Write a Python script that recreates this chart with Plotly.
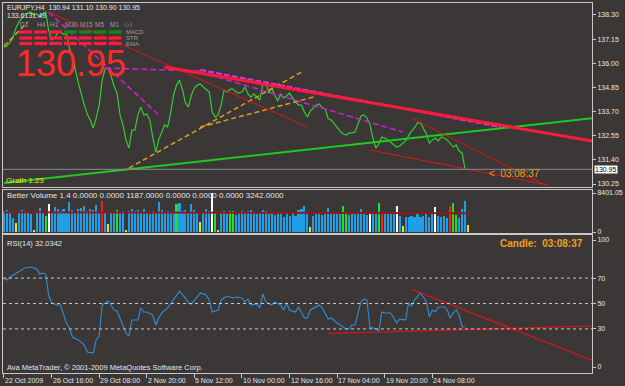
import plotly.graph_objects as go

# ---------------- data ----------------
bars = list(range(156))
close = [136.77, 136.82, 137.01, 137.20, 137.68, 137.96, 138.15, 138.30, 138.39, 138.44,
         138.30, 138.35, 138.20, 138.35, 138.44, 137.58, 137.11, 137.20, 137.44, 137.49,
         137.39, 137.39, 136.73, 136.25, 135.68, 135.06, 134.49, 134.01, 133.58, 133.30,
         132.92, 133.39, 134.01, 135.20, 135.73, 135.77, 135.39, 134.92, 134.58, 133.54,
         133.06, 132.35, 131.96, 132.82, 132.82, 133.54, 133.92, 133.54, 133.58, 133.30,
         132.49, 131.77, 132.35, 132.68, 133.06, 132.96, 133.63, 134.49, 134.96, 135.20,
         134.73, 134.11, 133.92, 134.49, 134.82, 134.96, 135.01, 134.87, 134.73, 134.63,
         133.68, 133.44, 133.54, 134.01, 134.73, 134.63, 134.77, 134.77, 134.63, 134.58,
         134.63, 134.87, 134.54, 134.39, 134.54, 134.39, 134.25, 135.01, 135.11, 134.58,
         134.82, 134.49, 134.20, 134.54, 134.35, 134.44, 134.58, 134.35, 134.15, 134.01,
         134.01, 133.68, 133.44, 133.73, 133.87, 134.01, 134.06, 133.87, 133.82, 133.35,
         133.30, 133.11, 132.96, 132.77, 132.63, 132.58, 132.68, 132.68, 132.73, 133.11,
         133.49, 133.54, 133.39, 133.11, 132.44, 131.96, 132.16, 132.49, 132.44, 132.35,
         132.25, 132.11, 132.01, 132.06, 132.16, 132.30, 132.54, 132.77, 132.92, 133.16,
         133.16, 132.87, 132.63, 132.20, 132.35, 132.44, 132.30, 132.49, 132.44, 132.35,
         132.20, 132.01, 132.11, 131.82, 131.73, 130.95]

rsi_bar = [0, 1, 2, 5, 7, 9, 11, 12, 13, 14, 15, 16, 18, 19, 20, 21, 22, 23, 25, 27, 28, 30,
           31, 32, 33, 35, 36, 37, 38, 40, 41, 42, 43, 45, 46, 47, 48, 50, 51, 52, 53, 55,
           57, 59, 61, 62, 63, 65, 66, 68, 69, 70, 72, 73, 75, 77, 78, 80, 81, 82, 83, 85,
           86, 87, 88, 90, 91, 93, 94, 95, 96, 98, 99, 101, 102, 103, 105, 106, 107, 109,
           110, 112, 115, 116, 117, 118, 120, 121, 122, 123, 125, 126, 127, 128, 130, 132,
           133, 135, 136, 137, 138, 140, 141, 142, 143, 144, 145, 146, 148, 149, 150, 151,
           152, 153, 154, 155]
rsi_val = [70.1, 68.5, 70.9, 74.8, 78.0, 78.7, 77.2, 73.2, 74.0, 73.2, 56.7, 50.4, 48.8, 48.8,
           42.5, 34.6, 30.7, 23.6, 21.3, 17.3, 11.8, 11.0, 21.3, 24.4, 48.8, 52.0, 48.8, 44.9,
           44.1, 31.5, 26.8, 24.4, 37.0, 37.0, 46.5, 43.3, 43.3, 40.9, 33.1, 38.6, 42.5, 46.5,
           52.8, 59.8, 54.3, 50.4, 49.6, 55.9, 58.3, 56.7, 52.8, 43.3, 44.9, 52.8, 55.9, 54.3,
           55.1, 54.3, 51.2, 53.5, 48.8, 49.6, 46.5, 57.5, 51.2, 48.8, 51.2, 48.8, 44.9, 50.4,
           44.9, 43.3, 47.2, 38.6, 38.6, 44.9, 47.2, 48.8, 46.5, 37.8, 38.6, 34.6, 29.9, 29.9,
           33.1, 33.1, 51.2, 53.5, 52.8, 31.5, 29.9, 28.3, 43.3, 42.5, 42.5, 34.6, 37.8, 37.0,
           50.4, 48.0, 52.8, 58.3, 55.1, 51.2, 39.4, 44.9, 43.3, 47.2, 47.2, 44.9, 38.6, 42.5,
           44.9, 40.9, 31.5, 32.03]

vol_bar = list(range(157))
vol_val = [4500, 4700, 4300, 3000, 1900, 4400, 4700, 4600, 4200, 3800,
           500, 4300, 5200, 4000, 3500, 6000, 4400, 5400, 5000, 4600,
           4900, 4400, 6500, 4700, 4400, 4900, 5200, 5600, 4500, 5000,
           4700, 5800, 4300, 6600, 4000, 1800, 4300, 4000, 4800, 4300,
           4600, 500, 4600, 5000, 4500, 4700, 4100, 4900, 4400, 3900,
           4600, 4300, 6500, 4800, 4100, 4600, 4300, 4000, 6100, 6300,
           4500, 4800, 4200, 6100, 4700, 4300, 2200, 4400, 4900, 4500,
           8401, 4300, 500, 4200, 4600, 4000, 4500, 4600, 3700, 4100,
           4500, 4000, 4600, 4700, 4100, 3800, 4300, 4800, 4600, 4200,
           4000, 3600, 4400, 3800, 3300, 4100, 3500, 4200, 3400, 4700,
           5000, 5600, 4200, 1000, 3500, 3900, 4200, 3700, 4100, 5100,
           4000, 3800, 4200, 3900, 5700, 4200, 3600, 4100, 4400, 3900,
           5000, 4200, 3700, 4200, 3900, 4200, 6200, 4200, 4000, 4300,
           4400, 4100, 5600, 3500, 1300, 3300, 3200, 3500, 3300, 3800,
           3200, 3500, 4100, 3300, 3900, 5400, 3500, 3200, 3500, 3100,
           5600, 6200, 3700, 3000, 5000, 6700, 1500]
vol_kind = list("bbbbybbbbb" "ybbbgwbbbb" "bbbbbbbbbb" "bbbrbybbgb"
                "bybbbbbbbb" "bbbbbbbbgb" "bbbbbbybbb" "wgybbbggbb"
                "bbbbbbbbbb" "bbbbbbbbbb" "bbbybbbbbb" "bbbbggbbbb"
                "bbbwbbgrbb" "bbwbybbbbb" "bbbbbwbbbb" "rggbbby")
vol_ma_bar = [0, 40, 80, 120, 156]
vol_ma_val = [4250, 4250, 4200, 4100, 4050]

price_ticks = [138.30, 137.15, 136.00, 134.85, 133.70, 132.55, 131.40, 130.25]
vol_ticks = [8401.05, 0]
vol_tick_text = ["8401.05", "0"]
rsi_ticks = [100, 70, 50, 30, 0]
rsi_levels = [70, 50, 30]
time_ticks = [0, 16, 32, 48, 64, 80, 96, 112, 128, 144]
time_labels = ["22 Oct 2009", "26 Oct 16:00", "29 Oct 08:00", "2 Nov 20:00", "5 Nov 12:00",
               "10 Nov 00:00", "12 Nov 16:00", "17 Nov 04:00", "19 Nov 20:00", "24 Nov 08:00"]

# user-drawn lines: (bar0, value0, bar1, value1, color, width, dash)
main_lines = [
    (0, 130.30, 200, 133.42, "#22c822", 2, "solid"),
    (0, 136.82, 8, 137.96, "#d8a020", 1.5, "5px,3px"),
    (42, 131.01, 100, 135.58, "#d8a020", 1.5, "5px,3px"),
    (66, 132.96, 104, 134.39, "#d8a020", 1.5, "5px,3px"),
    (15, 138.44, 52, 133.53, "#d020d0", 1.5, "6px,3px"),
    (34, 135.77, 66, 135.63, "#d020d0", 1.5, "6px,3px"),
    (66, 135.58, 134, 132.73, "#d020d0", 1.5, "6px,3px"),
    (66, 135.68, 167, 132.96, "#e030e0", 2, "6px,2px"),
    (15, 138.44, 102, 132.97, "#e01414", 1, "solid"),
    (123, 131.87, 183, 130.20, "#e01414", 1, "solid"),
    (137, 133.39, 182, 130.20, "#e01414", 1, "solid"),
    (54, 135.82, 200, 132.24, "#ff1a3a", 3, "solid"),
]
rsi_lines = [
    (137, 61.2, 198, 5.0, "#e01414", 1.2),
    (109, 26.4, 198, 32.3, "#e01414", 1.2),
]

tf_labels = ["D1", "H4", "H1", "M30", "M15", "M5", "M1"]
macd_state = ["r", "r", "r", "g", "g", "g", "g"]
str_state = ["r"] * 7
ema_state = ["r"] * 7

# ---------------- layout helpers ----------------
W, H = 625, 386
L, R, T, B = 2, 29, 3, 13
PW, PH = W - L - R, H - T - B
BG = "#3b3737"
FG = "#e6e6e6"
BORDER = "#c8c8c8"
FONT = "Liberation Sans, Arial, sans-serif"


def fx(px):
    return (px - L) / PW


def fy(py):
    return (H - B - py) / PH


XR = [-1 / 3, 197.667]
COLORS = {"b": "#1e9fe6", "y": "#f0e020", "w": "#ffffff", "r": "#ff1a1a", "g": "#22e022"}

fig = go.Figure()

# price line
fig.add_trace(go.Scatter(x=bars, y=close, mode="lines", line=dict(color="#33cc33", width=1.2),
                         xaxis="x2", yaxis="y2", hoverinfo="skip"))
for (a0, v0, a1, v1, c, w, d) in main_lines:
    fig.add_trace(go.Scatter(x=[a0, a1], y=[v0, v1], mode="lines",
                             line=dict(color=c, width=w, dash=d),
                             xaxis="x2", yaxis="y2", hoverinfo="skip"))

# volume
fig.add_trace(go.Bar(x=vol_bar, y=vol_val, width=0.7,
                     marker=dict(color=[COLORS[k] for k in vol_kind], line=dict(width=0)),
                     xaxis="x3", yaxis="y3", hoverinfo="skip"))
fig.add_trace(go.Scatter(x=vol_ma_bar, y=vol_ma_val, mode="lines",
                         line=dict(color="#8c1c1c", width=2),
                         xaxis="x3", yaxis="y3", hoverinfo="skip"))

# RSI
fig.add_trace(go.Scatter(x=rsi_bar, y=rsi_val, mode="lines", line=dict(color="#2f8fdc", width=1.1),
                         xaxis="x", yaxis="y", hoverinfo="skip"))
for (a0, v0, a1, v1, c, w) in rsi_lines:
    fig.add_trace(go.Scatter(x=[a0, a1], y=[v0, v1], mode="lines", line=dict(color=c, width=w),
                             xaxis="x", yaxis="y", hoverinfo="skip"))

shapes = []
for lv in rsi_levels:
    shapes.append(dict(type="line", xref="x domain", yref="y", x0=0, x1=1, y0=lv, y1=lv,
                       line=dict(color="#c8c8c8", width=1, dash="3px,3px")))
# current price line
shapes.append(dict(type="line", xref="x2 domain", yref="y2", x0=0, x1=1, y0=close[-1], y1=close[-1],
                   line=dict(color="#7d8ea0", width=1)))

# dashboard dashes
state_rows = [macd_state, str_state, ema_state]
row_y = [32, 38, 43.5]
for r, states in enumerate(state_rows):
    for k, s in enumerate(states):
        cx = 25 + 15 * k
        shapes.append(dict(type="rect", xref="paper", yref="paper",
                           x0=fx(cx - 6.5), x1=fx(cx + 6.5), y0=fy(row_y[r] + 1.6), y1=fy(row_y[r] - 1.6),
                           line=dict(width=0),
                           fillcolor="#ff1c3c" if s == "r" else "#138a13"))

ann = []


def text(t, x, y, size=8, color=FG, xa="left", bold=False, **kw):
    ann.append(dict(text=("<b>%s</b>" % t) if bold else t, xref="paper", yref="paper",
                    x=fx(x), y=fy(y), xanchor=xa, yanchor="middle", showarrow=False,
                    font=dict(family=FONT, size=size, color=color), **kw))


text("EURJPY,H4  130.94 131.10 130.90 130.95", 4, 7, size=7)
text("133.6131.49", 4, 16, size=7)
tf_cx = [24, 41, 54, 71, 86, 99, 114]
for lab, cx in zip(tf_labels, tf_cx):
    text(lab, cx, 25, size=6.5, color="#9c9c9c", xa="center")
text("G4", 129, 25, size=6.5, color="#6e6e6e", xa="center")
for lab, yy in zip(["MACD", "STR", "EMA"], row_y):
    text(lab, 124, yy, size=6, color="#9c9c9c")
text("130.95", 71, 64, size=36, color="#ff2a2a", xa="center")
text("Grath 1.23", 3, 180, size=8, color="#e8e820")
text("<  03:08:37", 490, 173, size=10, color="#eea020")
text("Better Volume 1.4 0.0000 0.0000 1187.0000 0.0000 0.0000 0.0000 3242.0000", 4, 195)
text("RSI(14) 32.0342", 4, 243, size=7.5)
text("Candle:  03:08:37", 589, 243, size=10, color="#eea020", xa="right", bold=True)
text("Ava MetaTrader, © 2001-2009 MetaQuotes Software Corp.", 4, 367, size=7.5)
for tv, tl in zip(time_ticks, time_labels):
    ann.append(dict(text=tl, xref="x", yref="paper", x=tv, y=fy(380), xanchor="left",
                    yanchor="middle", showarrow=False, xshift=-1,
                    font=dict(family=FONT, size=7, color=FG)))
# current price label on price scale
ann.append(dict(text="130.95", xref="paper", yref="y2", x=fx(598), y=close[-1], xanchor="left",
                yanchor="middle", showarrow=False, bgcolor="#ffffff", borderpad=0,
                font=dict(family=FONT, size=7, color="#000000")))

axis_common = dict(showline=True, linecolor=BORDER, linewidth=1, mirror=True, showgrid=False,
                   zeroline=False, fixedrange=True)
tickfont = dict(family=FONT, size=7, color=FG)

fig.update_layout(
    width=W, height=H, margin=dict(l=L, r=R, t=T, b=B),
    paper_bgcolor=BG, plot_bgcolor=BG, showlegend=False,
    xaxis=dict(domain=[0, 1], range=XR, anchor="y", tickvals=time_ticks, ticks="outside",
               ticklen=4, tickcolor=BORDER, showticklabels=False, **axis_common),
    xaxis2=dict(domain=[0, 1], range=XR, anchor="y2", showticklabels=False, ticks="", **axis_common),
    xaxis3=dict(domain=[0, 1], range=XR, anchor="y3", showticklabels=False, ticks="", **axis_common),
    yaxis=dict(domain=[0, fy(235)], range=[-4.72, 103.94], side="right", anchor="x",
               tickvals=rsi_ticks, ticktext=[str(v) for v in rsi_ticks], ticks="outside", ticklen=3,
               tickcolor=BORDER, tickfont=tickfont, ticklabeloverflow="allow", **axis_common),
    yaxis2=dict(domain=[fy(187), 1], range=[130.107, 138.869], side="right", anchor="x2",
                tickvals=price_ticks, ticktext=["%.2f" % v for v in price_ticks], ticks="outside",
                ticklen=3, tickcolor=BORDER, tickfont=tickfont, ticklabeloverflow="allow", **axis_common),
    yaxis3=dict(domain=[fy(233), fy(190)], range=[-215, 9047], side="right", anchor="x3",
                tickvals=vol_ticks, ticktext=vol_tick_text, ticks="outside", ticklen=3,
                tickcolor=BORDER, tickfont=tickfont, ticklabeloverflow="allow", **axis_common),
    shapes=shapes, annotations=ann, bargap=0,
)

fig.write_html("out.html")
